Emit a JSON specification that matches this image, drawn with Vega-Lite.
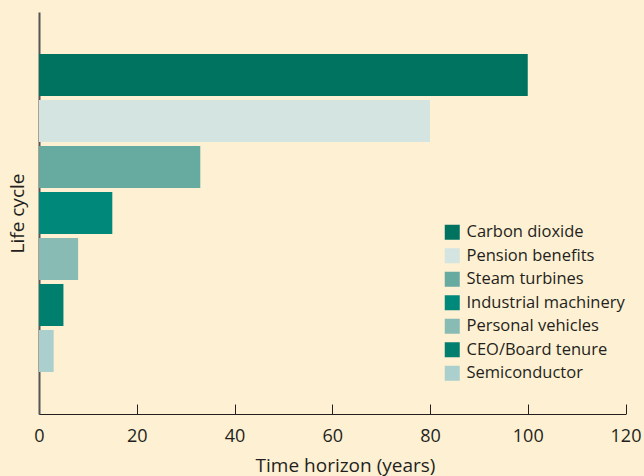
{
  "$schema": "https://vega.github.io/schema/vega-lite/v6.json",
  "width": 586.5,
  "height": 402,
  "autosize": "none",
  "padding": {"left": 39, "top": 12, "right": 18.5, "bottom": 62},
  "background": "#FEF0D2",
  "config": {
    "view": {"stroke": null},
    "font": "Open Sans"
  },
  "data": {
    "values": [
      {"item": "Carbon dioxide", "years": 100},
      {"item": "Pension benefits", "years": 80},
      {"item": "Steam turbines", "years": 33},
      {"item": "Industrial machinery", "years": 15},
      {"item": "Personal vehicles", "years": 8},
      {"item": "CEO/Board tenure", "years": 5},
      {"item": "Semiconductor", "years": 3}
    ]
  },
  "mark": {"type": "bar"},
  "encoding": {
    "y": {
      "field": "item",
      "type": "nominal",
      "sort": null,
      "scale": {"paddingInner": 0.087, "paddingOuter": 0.913},
      "axis": {
        "title": "Life cycle",
        "titleFontSize": 19,
        "titleFontWeight": "normal",
        "titleColor": "#231F20",
        "titlePadding": 12,
        "labels": false,
        "ticks": false,
        "domainColor": "#555555",
        "domainWidth": 2
      }
    },
    "x": {
      "field": "years",
      "type": "quantitative",
      "scale": {"domain": [0, 120], "nice": false},
      "axis": {
        "title": "Time horizon (years)",
        "titleFontSize": 19,
        "titleFontWeight": "normal",
        "titleColor": "#231F20",
        "titleX": 306,
        "titleY": 51,
        "titleBaseline": "middle",
        "values": [0, 20, 40, 60, 80, 100, 120],
        "tickSize": -10,
        "tickColor": "#231F20",
        "domainColor": "#231F20",
        "labelPadding": 23,
        "labelFontSize": 18,
        "labelFlush": false,
        "labelColor": "#231F20",
        "grid": false
      }
    },
    "color": {
      "field": "item",
      "type": "nominal",
      "sort": null,
      "scale": {
        "domain": ["Carbon dioxide", "Pension benefits", "Steam turbines", "Industrial machinery", "Personal vehicles", "CEO/Board tenure", "Semiconductor"],
        "range": ["#007360", "#D3E4E1", "#66AAA0", "#00897A", "#88BBB4", "#007E6E", "#AACFCD"]
      },
      "legend": {
        "title": null,
        "orient": "none",
        "legendX": 405,
        "legendY": 212,
        "symbolType": "square",
        "symbolSize": 225,
        "symbolStrokeWidth": 0,
        "labelFontSize": 16.5,
        "labelColor": "#231F20",
        "labelOffset": 6,
        "rowPadding": 6.5,
        "labelLimit": 300
      }
    }
  }
}
